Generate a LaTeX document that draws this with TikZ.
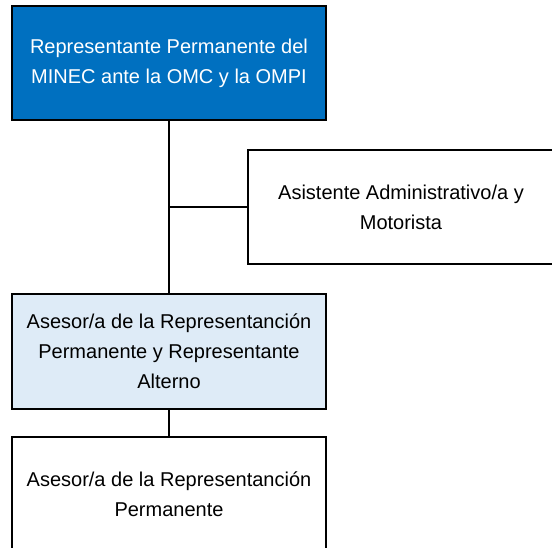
\documentclass[tikz,border=0pt]{standalone}
\usepackage{fontspec}
\setmainfont{Liberation Sans}
\usetikzlibrary{positioning}
\definecolor{jefeazul}{HTML}{0070C0}
\definecolor{asesorazul}{HTML}{DEEBF7}
\tikzset{x=1pt, y=-1pt,
  every node/.style={align=center,
    font=\fontsize{20}{30}\selectfont},
  cargo/.style={ % Sets the properties for each box
    draw, line width=2pt, fill=white,
    minimum width=314pt, minimum height=114pt,
    inner sep=0pt},
  linea/.style={draw, line width=2pt}}

\begin{document}
\begin{tikzpicture}
  \useasboundingbox (0,0) rectangle (552,548);
  \clip (0,0) rectangle (552,548);

  \node [cargo, fill=jefeazul, text=white] (qjefe) at (169,63.5) {
    Representante Permanente del\\
    MINEC ante la OMC y la OMPI
  };
  \node [cargo, minimum width=306pt] (qasist) at (401,207.5) {
    Asistente Administrativo/a y\\
    Motorista
  };
  \node [cargo, fill=asesorazul] (qalterno) at (169,351.5) {
    Asesor/a de la Representanción\\
    Permanente y Representante\\
    Alterno
  };
  \node [cargo] (qasesor) at (169,494) {
    Asesor/a de la Representanción\\
    Permanente
  };

  \draw [linea] (qjefe.south) -- (qalterno.north);
  \draw [linea] (qasist.west) -- (qjefe.south |- qasist.west);
  \draw [linea] (qalterno.south) -- (qasesor.north);
\end{tikzpicture}
\end{document}
